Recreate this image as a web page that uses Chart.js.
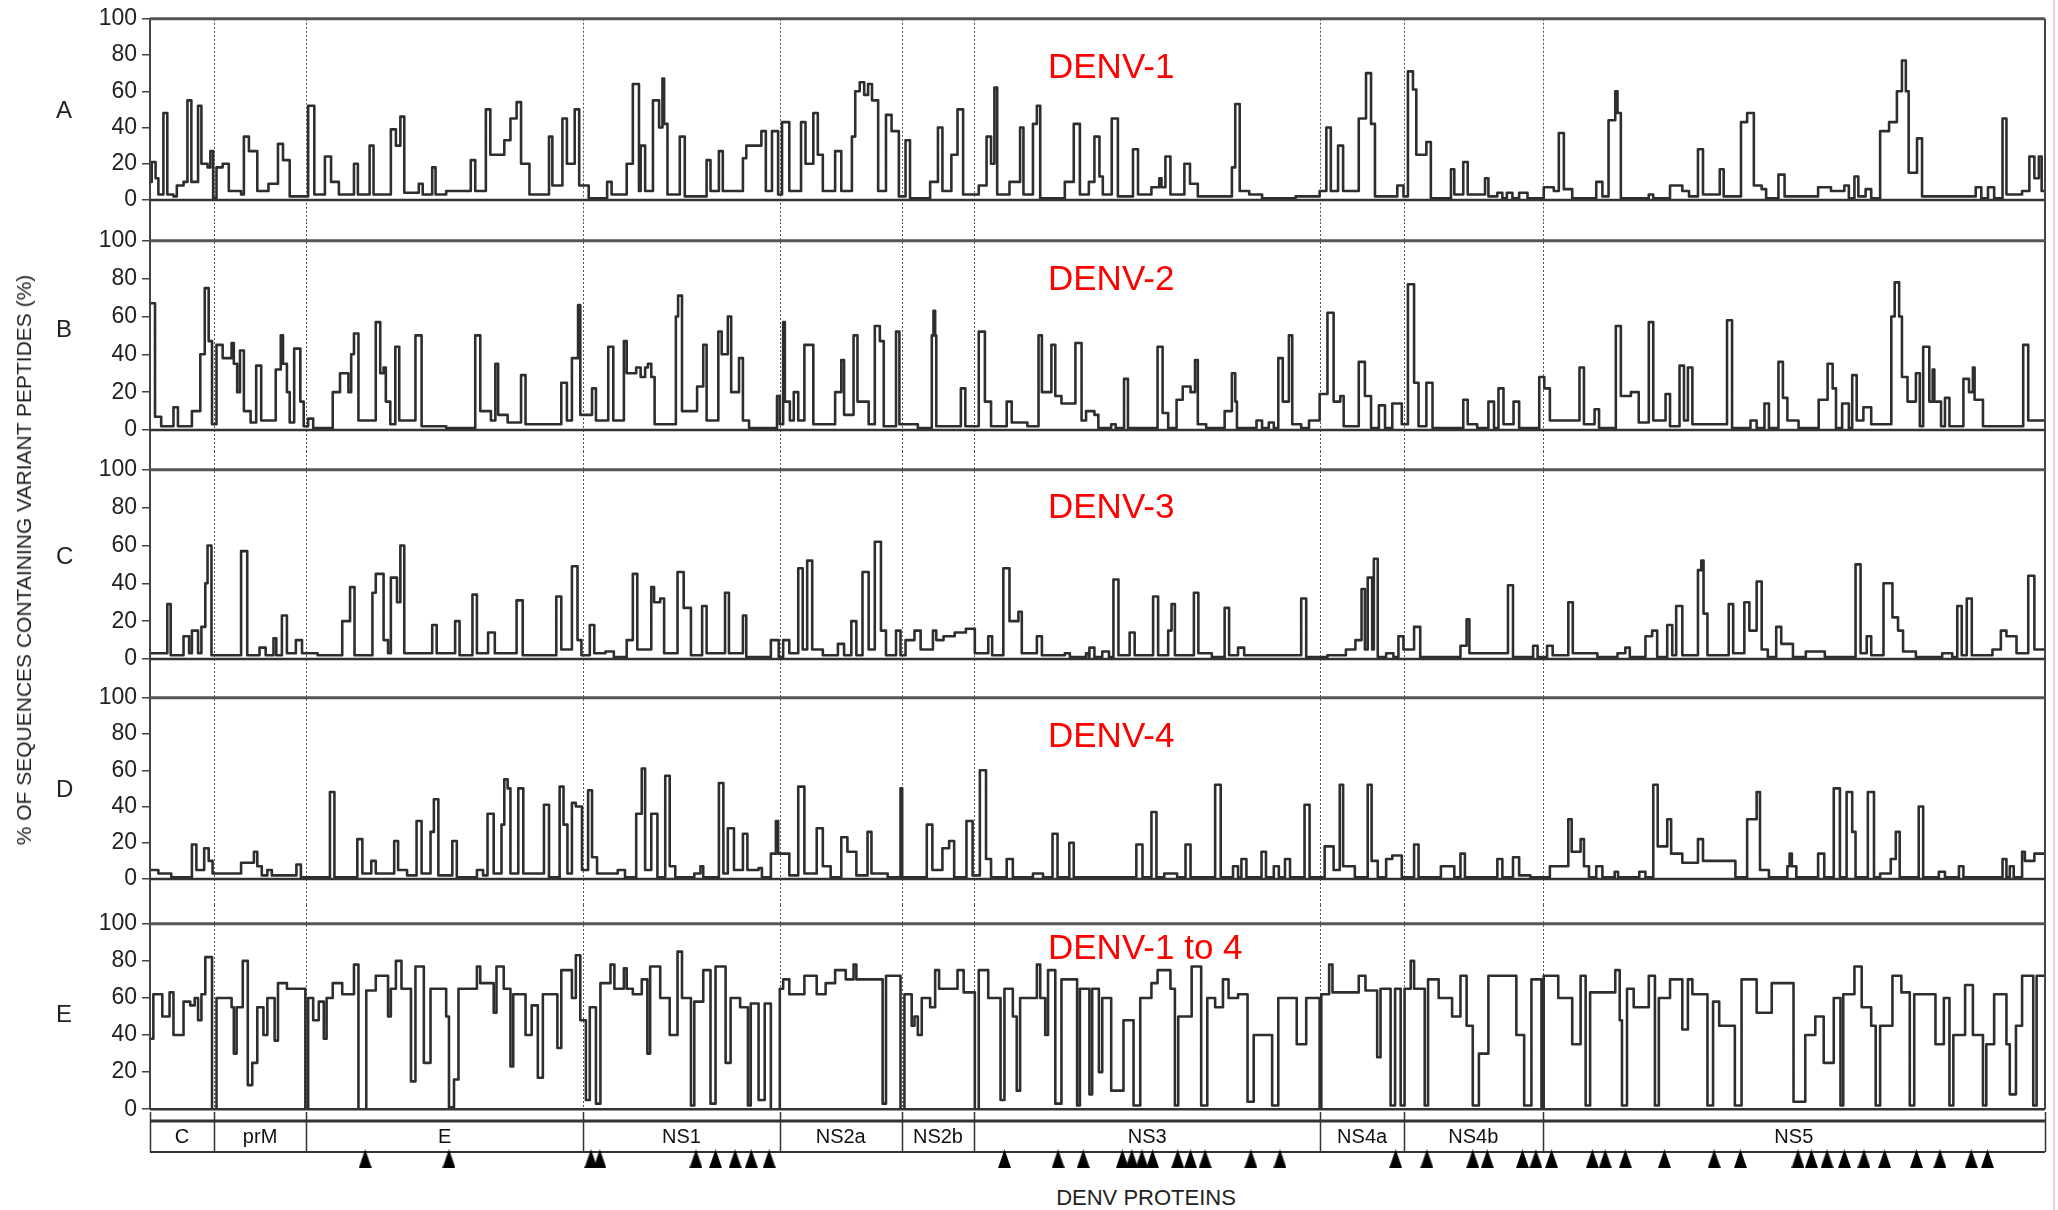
<!DOCTYPE html>
<html>
<head>
<meta charset="utf-8">
<script src="https://cdn.jsdelivr.net/npm/chart.js@4.4.1/dist/chart.umd.min.js"></script>
<style>
  body { margin: 0; background: #fff; width: 2058px; height: 1210px; position: relative; overflow: hidden;
         font-family: "Liberation Sans", Arial, sans-serif; }
  canvas { position: absolute; left: 0; }
  .title { position: absolute; left: 1048px; color: #ff0000; font-size: 35px; line-height: 1; white-space: nowrap; }
  .letter { position: absolute; left: 56px; color: #222; font-size: 24px; line-height: 1; }
  #ytitle { position: absolute; left: 24px; top: 560px; font-size: 21px; color: #222; white-space: nowrap;
            transform: translate(-50%, -50%) rotate(-90deg); }
  #xtitle { position: absolute; left: 1146px; top: 1187px; transform: translateX(-50%); font-size: 22px;
            line-height: 1; color: #222; white-space: nowrap; }
  #edge { position: absolute; left: 2053px; top: 0; width: 2px; height: 1210px; background: #f3cccc; }
</style>
</head>
<body>
<canvas id="cA"></canvas>
<canvas id="cB"></canvas>
<canvas id="cC"></canvas>
<canvas id="cD"></canvas>
<canvas id="cE"></canvas>
<canvas id="cP"></canvas>

<div class="title" style="top:48px">DENV-1</div>
<div class="title" style="top:260px">DENV-2</div>
<div class="title" style="top:488px">DENV-3</div>
<div class="title" style="top:717px">DENV-4</div>
<div class="title" style="top:929px">DENV-1 to 4</div>

<div class="letter" style="top:98px">A</div>
<div class="letter" style="top:317px">B</div>
<div class="letter" style="top:544px">C</div>
<div class="letter" style="top:777px">D</div>
<div class="letter" style="top:1002px">E</div>

<div id="ytitle">% OF SEQUENCES CONTAINING VARIANT PEPTIDES (%)</div>
<div id="xtitle">DENV PROTEINS</div>
<div id="edge"></div>

<script>
'use strict';

// polyprotein length and protein boundaries (amino acid positions)
const seqLength = 3391;
const proteinNames = ['C','prM','E','NS1','NS2a','NS2b','NS3','NS4a','NS4b','NS5'];
const proteinEdges = [0, 114, 280, 775, 1127, 1345, 1475, 2094, 2244, 2492, 3391];
const yTicks = [0, 20, 40, 60, 80, 100];

// positions marked with a triangle under the protein bar
const markedSites = [385, 535, 789, 805, 977, 1012, 1047, 1076, 1108, 1529, 1625, 1670, 1740, 1757,
  1775, 1794, 1839, 1862, 1888, 1970, 2022, 2229, 2285, 2367, 2393, 2456, 2480, 2508, 2581, 2604,
  2640, 2710, 2799, 2846, 2949, 2973, 3001, 3032, 3067, 3104, 3161, 3203, 3259, 3288];

// [position, % variant] - value holds from position to the next one
const denv1 = [[0,10],[3,21],[10,12],[15,3],[24,48],[31,3],[42,2],[48,8],[60,10],[67,55],[74,10],[86,52],[92,20],
  [103,18],[108,27],[113,1],[119,18],[130,20],[141,5],[163,3],[168,35],[177,27],[192,5],[212,9],[229,31],[238,22],
  [250,2],[283,52],[294,3],[313,24],[324,10],[338,3],[365,20],[372,3],[393,30],[400,3],[431,39],[440,30],[448,46],
  [455,4],[481,9],[488,3],[505,18],[511,3],[530,5],[574,22],[582,5],[601,50],[609,25],[634,33],[645,45],[656,54],
  [664,20],[679,3],[714,35],[720,8],[738,45],[746,20],[760,50],[768,8],[785,1],[818,10],[826,3],[853,20],[864,64],
  [875,5],[878,30],[886,5],[900,55],[911,40],[917,67],[920,42],[926,3],[948,35],[957,2],[996,22],[1003,5],[1018,27],
  [1025,5],[1061,23],[1067,30],[1094,38],[1102,5],[1113,38],[1124,3],[1131,43],[1144,5],[1165,43],[1173,20],
  [1187,48],[1195,25],[1204,5],[1226,27],[1237,5],[1256,35],[1262,60],[1270,65],[1278,58],[1285,64],[1292,55],
  [1303,5],[1317,47],[1327,38],[1340,2],[1352,33],[1360,1],[1396,10],[1410,40],[1418,5],[1434,25],[1445,50],
  [1455,3],[1483,8],[1497,35],[1505,20],[1511,62],[1516,3],[1538,10],[1557,40],[1563,3],[1580,42],[1587,52],
  [1593,1],[1637,10],[1653,42],[1664,3],[1680,10],[1690,35],[1699,13],[1705,3],[1721,45],[1732,2],[1759,28],
  [1768,3],[1792,7],[1806,12],[1810,7],[1817,24],[1826,3],[1851,20],[1861,9],[1875,2],[1936,18],[1942,53],
  [1950,5],[1967,3],[1990,1],[2050,2],[2093,5],[2105,40],[2113,5],[2126,30],[2135,5],[2163,45],[2176,70],
  [2185,42],[2192,2],[2232,8],[2243,2],[2251,71],[2260,61],[2266,25],[2284,32],[2292,1],[2328,17],[2334,3],
  [2350,21],[2358,3],[2389,12],[2395,2],[2411,4],[2420,1],[2428,4],[2438,1],[2450,4],[2465,1],[2494,7],[2512,5],
  [2521,37],[2530,6],[2545,1],[2588,10],[2599,2],[2610,44],[2622,60],[2626,48],[2632,1],[2682,3],[2690,1],
  [2720,8],[2742,5],[2754,2],[2770,28],[2779,3],[2809,17],[2816,2],[2847,43],[2858,48],[2870,8],[2884,6],
  [2892,1],[2914,14],[2925,2],[2985,7],[3008,5],[3032,8],[3040,1],[3050,13],[3057,2],[3070,6],[3080,1],
  [3096,38],[3112,43],[3126,60],[3135,77],[3142,60],[3147,15],[3162,34],[3171,2],[3267,7],[3277,1],[3289,7],
  [3300,1],[3315,45],[3322,3],[3350,5],[3363,24],[3372,12],[3380,24],[3385,5],[3391,5]];

const denv2 = [[0,67],[9,7],[20,2],[42,12],[50,2],[75,10],[90,40],[98,75],[105,47],[111,3],[119,45],[130,38],
  [146,46],[150,35],[156,20],[161,42],[168,10],[180,4],[190,34],[199,5],[225,32],[234,50],[238,35],[245,20],
  [250,4],[258,43],[269,15],[275,2],[283,6],[292,1],[327,20],[340,30],[355,20],[360,40],[365,51],[373,5],
  [404,57],[412,30],[418,33],[422,15],[430,3],[439,44],[446,5],[475,50],[486,2],[530,1],[582,50],[591,10],
  [610,5],[618,35],[623,8],[640,4],[664,29],[672,3],[736,25],[746,5],[755,38],[766,66],[770,8],[791,22],
  [798,5],[820,44],[829,5],[848,47],[853,30],[864,30],[870,33],[878,28],[886,33],[891,35],[897,28],[903,3],
  [941,60],[945,71],[952,10],[979,23],[990,45],[996,5],[1017,52],[1023,40],[1034,60],[1040,20],[1054,38],
  [1061,5],[1072,1],[1122,18],[1127,3],[1133,57],[1136,15],[1145,5],[1152,20],[1160,5],[1171,45],[1187,3],
  [1226,20],[1237,37],[1242,8],[1259,50],[1266,15],[1281,15],[1286,3],[1297,55],[1306,47],[1313,2],[1335,52],
  [1341,3],[1352,3],[1374,1],[1399,50],[1402,63],[1405,50],[1407,2],[1451,22],[1459,2],[1483,52],[1494,15],
  [1505,2],[1533,15],[1542,4],[1570,2],[1590,50],[1596,20],[1613,45],[1620,18],[1631,14],[1656,46],[1667,5],
  [1675,10],[1690,8],[1697,1],[1720,3],[1728,1],[1743,27],[1750,1],[1803,44],[1812,9],[1822,1],[1837,16],
  [1848,23],[1862,20],[1870,37],[1875,3],[1890,1],[1923,10],[1936,30],[1942,15],[1945,1],[1980,5],[1990,1],
  [2002,4],[2011,1],[2019,38],[2027,15],[2038,50],[2044,3],[2060,1],[2074,5],[2093,19],[2107,62],[2118,15],
  [2130,18],[2136,2],[2163,36],[2174,18],[2185,1],[2199,13],[2210,1],[2223,14],[2240,3],[2251,77],[2262,25],
  [2270,2],[2284,25],[2295,1],[2350,16],[2358,3],[2375,1],[2395,15],[2405,1],[2413,22],[2422,3],[2440,15],
  [2450,1],[2486,28],[2495,22],[2505,5],[2558,33],[2566,3],[2585,11],[2593,1],[2623,55],[2632,18],[2650,20],
  [2664,4],[2682,57],[2690,5],[2712,19],[2720,2],[2737,34],[2745,5],[2752,33],[2760,3],[2822,58],[2831,1],
  [2864,5],[2875,1],[2889,14],[2897,1],[2914,36],[2922,17],[2930,5],[2950,1],[2986,16],[3002,35],[3011,22],
  [3017,1],[3028,14],[3040,1],[3046,29],[3054,5],[3066,12],[3080,3],[3116,60],[3122,78],[3130,60],[3135,28],
  [3145,15],[3160,30],[3167,2],[3173,44],[3184,15],[3190,32],[3193,15],[3205,2],[3212,17],[3220,2],[3245,27],
  [3255,20],[3262,33],[3265,16],[3280,2],[3352,45],[3361,5],[3391,5]];

const denv3 = [[0,3],[31,29],[37,2],[60,12],[70,3],[75,15],[86,3],[92,17],[99,40],[103,60],[110,2],[163,57],
  [174,2],[196,6],[207,2],[221,11],[226,2],[236,23],[245,3],[261,10],[272,3],[300,2],[344,20],[358,38],[366,2],
  [398,35],[404,45],[418,10],[426,3],[431,43],[442,30],[448,60],[455,3],[505,18],[513,3],[546,20],[554,2],
  [577,34],[585,3],[605,14],[617,3],[656,31],[667,2],[727,33],[736,5],[755,49],[765,10],[772,2],[787,18],
  [795,3],[815,4],[830,1],[853,10],[864,45],[872,5],[897,38],[902,30],[913,32],[920,3],[944,46],[955,27],
  [968,2],[988,28],[996,3],[1029,35],[1036,3],[1061,23],[1067,1],[1111,10],[1125,1],[1133,10],[1144,3],
  [1160,48],[1168,5],[1176,52],[1185,5],[1204,2],[1231,8],[1242,2],[1255,20],[1264,2],[1275,46],[1286,5],
  [1297,62],[1308,15],[1317,2],[1335,15],[1343,2],[1352,10],[1368,15],[1379,5],[1401,15],[1407,10],[1420,12],
  [1440,14],[1460,16],[1476,3],[1500,12],[1507,2],[1527,48],[1538,20],[1554,25],[1560,3],[1587,12],[1596,2],
  [1637,3],[1646,1],[1675,3],[1680,1],[1681,6],[1690,1],[1704,4],[1716,1],[1724,42],[1733,2],[1753,14],
  [1762,2],[1795,33],[1804,2],[1822,15],[1828,29],[1834,2],[1868,35],[1876,3],[1900,1],[1923,27],[1931,2],
  [1947,6],[1958,2],[2060,32],[2069,1],[2107,2],[2140,5],[2157,10],[2168,37],[2174,5],[2179,43],[2187,5],
  [2190,53],[2197,1],[2212,3],[2225,1],[2234,12],[2243,5],[2262,17],[2273,1],[2345,7],[2356,21],[2361,3],
  [2430,39],[2439,1],[2475,7],[2483,1],[2500,7],[2510,2],[2538,30],[2546,3],[2590,1],[2626,3],[2640,6],
  [2648,1],[2676,12],[2688,15],[2697,1],[2715,18],[2724,2],[2731,28],[2742,2],[2770,47],[2776,52],[2780,24],
  [2787,2],[2825,29],[2833,3],[2853,30],[2862,15],[2875,41],[2884,5],[2895,1],[2910,17],[2919,8],[2940,1],
  [2963,4],[2997,1],[3052,50],[3061,3],[3072,12],[3080,2],[3102,40],[3118,22],[3128,15],[3137,4],[3160,1],
  [3207,3],[3225,1],[3234,28],[3242,2],[3251,32],[3260,2],[3297,5],[3312,15],[3322,12],[3340,3],[3361,44],
  [3372,5],[3391,5]];

const denv4 = [[0,5],[15,3],[38,1],[75,19],[83,5],[97,17],[105,10],[112,3],[163,9],[186,15],[192,7],[200,2],
  [210,5],[218,2],[262,8],[270,1],[322,48],[330,1],[371,22],[380,3],[396,10],[404,3],[437,21],[444,5],[460,2],
  [477,32],[486,3],[502,26],[508,44],[516,2],[541,21],[549,1],[585,5],[596,2],[604,36],[615,3],[629,30],
  [634,55],[640,50],[645,3],[659,50],[668,3],[705,41],[714,1],[733,51],[740,30],[747,3],[755,42],[762,40],
  [773,5],[784,49],[791,12],[800,3],[837,5],[850,1],[870,36],[880,61],[886,5],[897,36],[908,1],[922,57],
  [930,7],[940,1],[974,3],[985,7],[990,1],[1018,53],[1026,3],[1034,28],[1045,5],[1061,25],[1069,5],[1089,6],
  [1095,1],[1111,14],[1120,32],[1124,14],[1144,2],[1160,51],[1171,3],[1193,28],[1204,7],[1218,1],[1237,23],
  [1248,15],[1264,2],[1284,26],[1291,3],[1320,1],[1343,50],[1346,1],[1390,30],[1400,5],[1418,17],[1430,21],
  [1439,1],[1461,32],[1472,2],[1485,60],[1496,11],[1505,1],[1533,11],[1544,1],[1580,3],[1598,1],[1615,25],
  [1624,1],[1645,20],[1653,1],[1765,19],[1776,1],[1792,37],[1801,1],[1815,3],[1838,1],[1853,19],[1862,1],
  [1906,52],[1916,1],[1938,7],[1947,1],[1953,11],[1962,1],[1989,15],[1997,1],[2011,7],[2020,1],[2031,11],
  [2040,1],[2066,41],[2075,1],[2102,18],[2118,5],[2129,52],[2135,7],[2156,1],[2179,52],[2186,10],[2197,1],
  [2212,11],[2223,13],[2240,1],[2262,19],[2270,1],[2310,7],[2334,1],[2345,14],[2353,1],[2411,11],[2420,1],
  [2439,12],[2450,2],[2470,1],[2505,7],[2538,33],[2544,15],[2560,22],[2566,7],[2575,1],[2588,7],[2599,1],
  [2621,4],[2627,1],[2665,4],[2676,1],[2690,52],[2698,18],[2715,33],[2722,14],[2742,9],[2770,22],[2779,10],
  [2837,1],[2858,33],[2875,48],[2881,5],[2897,1],[2930,7],[2934,14],[2938,7],[2946,1],[2985,14],[2996,1],
  [3013,50],[3024,1],[3036,48],[3046,26],[3052,1],[3074,48],[3085,1],[3096,3],[3115,11],[3124,26],[3131,1],
  [3165,40],[3173,1],[3201,4],[3212,1],[3237,7],[3245,1],[3315,11],[3322,1],[3328,7],[3335,1],[3350,15],
  [3355,10],[3372,14],[3391,14]];

const denvAll = [[0,38],[6,62],[22,50],[35,63],[42,40],[60,58],[72,56],[80,60],[86,48],[92,62],[99,82],[111,0],
  [119,60],[146,55],[150,30],[155,55],[166,80],[175,13],[183,25],[192,55],[203,40],[210,60],[223,37],[229,68],
  [245,65],[278,0],[283,60],[292,48],[302,58],[311,38],[316,60],[327,68],[344,62],[365,78],[373,0],[387,64],
  [404,72],[426,50],[431,65],[440,80],[450,65],[467,15],[475,77],[490,25],[502,65],[530,50],[535,1],[544,16],
  [552,65],[585,77],[591,68],[615,52],[620,77],[633,65],[645,23],[650,62],[672,40],[683,56],[694,17],[703,62],
  [729,33],[736,75],[755,60],[762,83],[770,48],[780,5],[787,55],[798,3],[806,68],[824,78],[831,65],[848,76],
  [853,65],[864,62],[880,70],[890,30],[895,77],[913,60],[930,40],[944,85],[952,60],[968,2],[974,58],[990,75],
  [1003,3],[1012,77],[1030,25],[1039,60],[1056,55],[1070,2],[1075,57],[1089,5],[1100,57],[1111,0],[1127,65],
  [1133,70],[1144,62],[1171,72],[1193,62],[1209,68],[1226,75],[1245,70],[1259,78],[1264,70],[1311,3],[1317,72],
  [1343,0],[1350,62],[1363,45],[1368,50],[1374,40],[1381,60],[1396,55],[1405,75],[1412,65],[1445,75],[1456,63],
  [1476,0],[1483,75],[1500,60],[1522,5],[1529,65],[1544,50],[1551,10],[1557,60],[1587,78],[1593,60],[1602,40],
  [1607,75],[1620,3],[1631,70],[1659,2],[1664,65],[1681,8],[1686,65],[1698,20],[1704,60],[1720,10],[1742,48],
  [1760,2],[1772,60],[1792,68],[1803,75],[1826,65],[1834,2],[1840,50],[1864,77],[1881,2],[1892,60],[1906,55],
  [1920,70],[1930,60],[1947,62],[1964,4],[1975,40],[2008,2],[2019,60],[2052,35],[2069,60],[2093,0],[2096,62],
  [2110,78],[2116,63],[2163,72],[2175,64],[2196,28],[2202,65],[2220,2],[2228,65],[2238,2],[2245,65],[2256,80],
  [2262,65],[2281,2],[2287,70],[2306,60],[2330,50],[2345,72],[2356,45],[2367,2],[2378,30],[2395,72],[2445,40],
  [2459,2],[2472,70],[2490,0],[2494,72],[2520,60],[2545,35],[2560,72],[2569,2],[2577,63],[2622,75],[2630,48],
  [2634,2],[2643,65],[2655,55],[2682,72],[2693,2],[2700,60],[2720,70],[2742,43],[2752,70],[2760,62],[2787,2],
  [2797,58],[2808,45],[2836,2],[2848,70],[2875,52],[2902,68],[2941,4],[2962,40],[2980,50],[2995,25],[3013,60],
  [3025,2],[3030,62],[3050,77],[3063,55],[3080,45],[3088,2],[3096,45],[3118,72],[3134,63],[3149,2],[3157,62],
  [3195,35],[3210,60],[3220,2],[3227,40],[3248,67],[3262,40],[3280,2],[3286,35],[3300,62],[3322,35],[3328,8],
  [3339,45],[3350,72],[3370,2],[3376,72],[3391,72]];

const FONT = '"Liberation Sans", Arial, sans-serif';
const W = 2058;
const PLOT_LEFT = 150;
const PAD_RIGHT = 13;

// panels: canvas top, canvas height, padding top, padding bottom
const panels = [
  { id: 'cA', data: denv1, top: 0, height: 222, padTop: 18, padBottom: 22, first: true },
  { id: 'cB', data: denv2, top: 222, height: 229, padTop: 14, padBottom: 21 },
  { id: 'cC', data: denv3, top: 451, height: 228, padTop: 14, padBottom: 20 },
  { id: 'cD', data: denv4, top: 679, height: 226, padTop: 14, padBottom: 26 },
  { id: 'cE', data: denvAll, top: 905, height: 223, padTop: 14, padBottom: 16, last: true }
];

const panelFrame = {
  id: 'panelFrame',
  beforeDatasetsDraw( chart, args, opts ) {
    const { ctx, chartArea: a, scales: { x } } = chart;
    const y0 = opts.first ? a.top : 0;
    const y1 = opts.last ? a.bottom : chart.height;
    ctx.save();
    ctx.strokeStyle = '#555';
    ctx.lineWidth = 1;
    ctx.setLineDash( [2, 2] );
    for ( let i = 1; i < proteinEdges.length - 1; i++ ) {
      const px = Math.round( x.getPixelForValue( proteinEdges[i] ) ) + 0.5;
      ctx.beginPath();
      ctx.moveTo( px, y0 );
      ctx.lineTo( px, y1 );
      ctx.stroke();
    }
    ctx.restore();
  },
  afterDraw( chart, args, opts ) {
    const { ctx, chartArea: a } = chart;
    const y0 = opts.first ? a.top : 0;
    const y1 = opts.last ? a.bottom : chart.height;
    ctx.save();
    ctx.strokeStyle = '#444';
    ctx.lineWidth = 2;
    ctx.beginPath();
    ctx.moveTo( a.left, y0 ); ctx.lineTo( a.left, y1 );
    ctx.moveTo( a.right, y0 ); ctx.lineTo( a.right, y1 );
    ctx.stroke();
    ctx.strokeStyle = '#555';
    ctx.lineWidth = 3;
    ctx.beginPath();
    ctx.moveTo( a.left, a.top ); ctx.lineTo( a.right, a.top );
    ctx.stroke();
    ctx.strokeStyle = '#333';
    ctx.lineWidth = 2.5;
    ctx.beginPath();
    ctx.moveTo( a.left, a.bottom ); ctx.lineTo( a.right, a.bottom );
    ctx.stroke();
    ctx.restore();
  }
};

panels.forEach( p => {
  const cv = document.getElementById( p.id );
  cv.width = W;
  cv.height = p.height;
  cv.style.top = p.top + 'px';
  new Chart( cv, {
    type: 'line',
    data: {
      datasets: [{
        data: p.data.map( d => ( { x: d[0], y: d[1] } ) ),
        stepped: 'before',
        borderColor: '#2e2e2e',
        borderWidth: 2.6,
        borderJoinStyle: 'round',
        pointRadius: 0,
        fill: false
      }]
    },
    options: {
      responsive: false,
      animation: false,
      layout: { padding: { top: p.padTop, bottom: p.padBottom, left: 0, right: PAD_RIGHT } },
      plugins: { legend: { display: false }, tooltip: { enabled: false },
        panelFrame: { first: !!p.first, last: !!p.last } },
      scales: {
        x: { type: 'linear', min: 0, max: seqLength, display: false },
        y: {
          min: 0, max: 100,
          afterBuildTicks: ax => { ax.ticks = yTicks.map( v => ( { value: v } ) ); },
          afterFit: ax => { ax.width = PLOT_LEFT; },
          ticks: { font: { family: FONT, size: 23 }, color: '#222', padding: 5 },
          grid: { drawOnChartArea: false, drawTicks: true, tickLength: 8, color: '#444', lineWidth: 1.5 },
          border: { display: true, color: '#444', width: 2 }
        }
      }
    },
    plugins: [panelFrame]
  } );
} );

// protein bar with marked sites
const triImg = document.createElement( 'canvas' );
triImg.width = 13;
triImg.height = 19;
const tctx = triImg.getContext( '2d' );
tctx.fillStyle = '#000';
tctx.beginPath();
tctx.moveTo( 6.5, 0 ); tctx.lineTo( 13, 19 ); tctx.lineTo( 0, 19 );
tctx.closePath();
tctx.fill();

const proteinBar = {
  id: 'proteinBar',
  beforeDatasetsDraw( chart ) {
    const { ctx, chartArea: a, scales: { x } } = chart;
    const boxTop = a.top, boxBot = a.top + 31;
    ctx.save();
    ctx.strokeStyle = '#333';
    ctx.lineWidth = 1.5;
    for ( let i = 0; i < proteinEdges.length; i++ ) {
      const px = Math.round( x.getPixelForValue( proteinEdges[i] ) ) + 0.5;
      ctx.beginPath();
      ctx.moveTo( px, 0 );
      ctx.lineTo( px, boxBot );
      ctx.stroke();
    }
    ctx.lineWidth = 3;
    ctx.beginPath(); ctx.moveTo( a.left, boxTop ); ctx.lineTo( a.right, boxTop ); ctx.stroke();
    ctx.lineWidth = 2;
    ctx.beginPath(); ctx.moveTo( a.left, boxBot ); ctx.lineTo( a.right, boxBot ); ctx.stroke();
    ctx.fillStyle = '#111';
    ctx.font = '20px ' + FONT;
    ctx.textAlign = 'center';
    ctx.textBaseline = 'middle';
    for ( let i = 0; i < proteinNames.length; i++ ) {
      const cx = ( x.getPixelForValue( proteinEdges[i] ) + x.getPixelForValue( proteinEdges[i + 1] ) ) / 2;
      ctx.fillText( proteinNames[i], cx, ( boxTop + boxBot ) / 2 + 1 );
    }
    ctx.restore();
  }
};

const pc = document.getElementById( 'cP' );
pc.width = W;
pc.height = 70;
pc.style.top = '1112px';
new Chart( pc, {
  type: 'scatter',
  data: {
    datasets: [{
      data: markedSites.map( s => ( { x: s, y: 0.23 } ) ),
      pointStyle: triImg,
      pointRadius: 8
    }]
  },
  options: {
    responsive: false,
    animation: false,
    layout: { padding: { top: 8, bottom: 12, left: PLOT_LEFT, right: PAD_RIGHT } },
    plugins: { legend: { display: false }, tooltip: { enabled: false } },
    scales: {
      x: { type: 'linear', min: 0, max: seqLength, display: false },
      y: { min: 0, max: 1, display: false }
    }
  },
  plugins: [proteinBar]
} );
</script>
</body>
</html>
